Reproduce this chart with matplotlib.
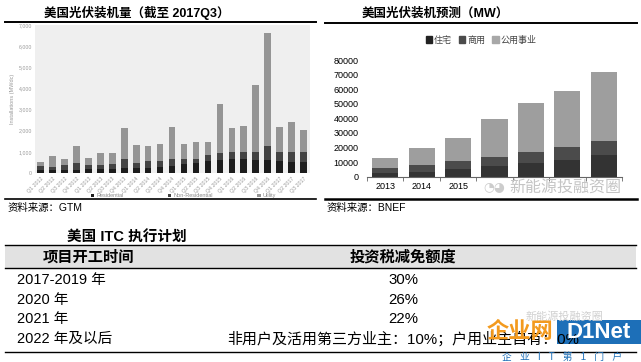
import numpy as np
import matplotlib
matplotlib.use("Agg")
import matplotlib.pyplot as plt
from matplotlib.patches import Rectangle, Patch
from matplotlib.lines import Line2D

plt.rcParams['font.family'] = ['Liberation Sans', 'Noto Sans CJK SC', 'DejaVu Sans']

# --- GTM quarterly installs (MWdc), Q1 2012 .. Q3 2017
quarters = ["Q1 2012", "Q2 2012", "Q3 2012", "Q4 2012",
            "Q1 2013", "Q2 2013", "Q3 2013", "Q4 2013",
            "Q1 2014", "Q2 2014", "Q3 2014", "Q4 2014",
            "Q1 2015", "Q2 2015", "Q3 2015", "Q4 2015",
            "Q1 2016", "Q2 2016", "Q3 2016", "Q4 2016",
            "Q1 2017", "Q2 2017", "Q3 2017"]
residential = [130, 140, 140, 145, 175, 190, 205, 240, 250, 260, 285, 350,
               440, 475, 570, 600, 665, 650, 600, 630, 550, 540, 505]
non_residential = [220, 160, 225, 315, 205, 205, 205, 410, 225, 310, 270, 315,
                   240, 205, 285, 365, 335, 350, 400, 650, 450, 470, 475]
utility = [185, 505, 315, 830, 345, 535, 540, 1460, 865, 690, 815, 1525,
           675, 770, 595, 2315, 1110, 1210, 3150, 5330, 1160, 1405, 1040]

# --- BNEF forecast (MW)
years = ["2013", "2014", "2015", "2016", "2017", "2018", "2019"]
zhuzhai = [2700, 3400, 5300, 7300, 9600, 11400, 14600]
shangyong = [3000, 4400, 5400, 6400, 7100, 8900, 10100]
gongyong = [7300, 11600, 15800, 26100, 33600, 38700, 46800]

# --- ITC table
itc_periods = ["2017-2019 年", "2020 年", "2021 年", "2022 年及以后"]
itc_rates = ["30%", "26%", "22%", "非用户及活用第三方业主：10%；户用业主自有：0%"]

W, H = 641, 362
fig = plt.figure(figsize=(W / 100, H / 100), dpi=100)
fig.patch.set_facecolor('white')


def fx(x):
    return x / W


def fy(y):
    return 1 - y / H


def hline(x0, x1, y, lw=1.2, color='black'):
    fig.add_artist(Line2D([fx(x0), fx(x1)], [fy(y), fy(y)], lw=lw, color=color,
                          transform=fig.transFigure))


# ================= left chart =================
ax1 = fig.add_axes([fx(35), fy(173), 275 / W, 148 / H])
ax1.set_facecolor('#efefef')
x = np.arange(len(quarters))
res = np.array(residential)
nres = np.array(non_residential)
ut = np.array(utility)
c_res, c_nres, c_ut = '#1c1c1c', '#434343', '#959595'
ax1.bar(x, res, width=0.55, color=c_res, label='Residential')
ax1.bar(x, nres, width=0.55, bottom=res, color=c_nres, label='Non-Residential')
ax1.bar(x, ut, width=0.55, bottom=res + nres, color=c_ut, label='Utility')
ax1.set_xlim(-0.48, 22.55)
ax1.set_ylim(0, 7000)
ax1.set_yticks(range(0, 7001, 1000))
ax1.set_yticklabels([f"{v:,}" for v in range(0, 7001, 1000)])
ax1.set_xticks(x)
ax1.set_xticklabels(quarters, rotation=45, ha='right', rotation_mode='anchor')
ax1.tick_params(length=0, labelsize=3.8, colors='#999999', pad=2)
for s in ax1.spines.values():
    s.set_visible(False)
ax1.set_ylabel("Installations (MWdc)", fontsize=4, color='#999999', labelpad=3)
ax1.legend(loc='center', bbox_to_anchor=(0.54, -0.155), ncol=3, frameon=False,
           fontsize=4, handlelength=0.6, handleheight=0.6, handletextpad=0.4,
           columnspacing=8, labelcolor='#888888')

fig.text(fx(44), fy(13), "美国光伏装机量（截至 2017Q3）", fontsize=9, fontweight='bold',
         va='center', ha='left')
hline(5, 316, 22, lw=1.4)
hline(5, 316, 198.5, lw=1.2)
fig.text(fx(8), fy(208), "资料来源：GTM", fontsize=7.5, va='center', ha='left')

# ================= right chart =================
ax2 = fig.add_axes([fx(367), fy(176.7), 255 / W, 116.7 / H])
xr = np.arange(len(years))
zz = np.array(zhuzhai)
sy = np.array(shangyong)
gy = np.array(gongyong)
ax2.bar(xr, zz, width=0.72, color='#333333', label='住宅')
ax2.bar(xr, sy, width=0.72, bottom=zz, color='#4b4b4b', label='商用')
ax2.bar(xr, gy, width=0.72, bottom=zz + sy, color='#9e9e9e', label='公用事业')
ax2.set_xlim(-0.5, 6.5)
ax2.set_ylim(0, 80000)
ax2.set_yticks(range(0, 80001, 10000))
ax2.set_xticks(xr)
ax2.set_xticklabels(years)
# years after 2015 are hidden under the watermark in the source image
for lab in ax2.get_xticklabels()[3:]:
    lab.set_visible(False)
ax2.set_xticks(np.arange(-0.5, 7, 1), minor=True)
ax2.tick_params(axis='x', which='major', length=0, labelsize=6.5, pad=4)
ax2.tick_params(axis='x', which='minor', length=3, color='#666666')
ax2.tick_params(axis='y', length=0, labelsize=6.5, pad=6)
for s in ['left', 'top', 'right']:
    ax2.spines[s].set_visible(False)
ax2.spines['bottom'].set_color('#666666')
ax2.spines['bottom'].set_linewidth(0.8)
fig.legend(handles=[Patch(color='#222222', label='住宅'),
                    Patch(color='#4b4b4b', label='商用'),
                    Patch(color='#a8a8a8', label='公用事业')],
           loc='center', bbox_to_anchor=(fx(481), fy(40)), ncol=3, frameon=False,
           fontsize=6.5, handlelength=0.7, handleheight=0.7, handletextpad=0.2,
           columnspacing=0.8, labelcolor='#444444')

fig.text(fx(362), fy(14), "美国光伏装机预测（MW）", fontsize=9, fontweight='bold',
         va='center', ha='left')
hline(325, 637, 22.5, lw=1.4)
hline(325, 637, 199.5, lw=1.8)
fig.text(fx(327), fy(208), "资料来源：BNEF", fontsize=7.5, va='center', ha='left')

# watermark
fig.text(fx(565), fy(188), "新能源投融资圈", fontsize=11.5, color='#c4c4c4', va='center',
         ha='center')
fig.text(fx(494), fy(187), "◔◕", fontsize=9, color='#cccccc', va='center', ha='center',
         family=['DejaVu Sans'])

# ================= ITC table =================
fig.text(fx(67), fy(237), "美国 ITC 执行计划", fontsize=10.5, fontweight='bold',
         va='center', ha='left')
fig.add_artist(Rectangle((fx(5), fy(268)), fx(631), (268 - 245) / H,
                         transform=fig.transFigure, facecolor='#e2e2e2', edgecolor='none'))
hline(5, 636, 245, lw=1.0)
hline(5, 636, 268, lw=1.0)
fig.text(fx(88), fy(257), "项目开工时间", fontsize=11, fontweight='bold',
         va='center', ha='center')
fig.text(fx(403), fy(257), "投资税减免额度", fontsize=11, fontweight='bold',
         va='center', ha='center')
row_y = [280, 300, 319, 339]
for yy, period, rate in zip(row_y, itc_periods, itc_rates):
    fig.text(fx(17), fy(yy), period, fontsize=10.5, va='center', ha='left')
    fig.text(fx(403), fy(yy), rate, fontsize=10.8, va='center', ha='center')
hline(5, 636, 352, lw=1.0)

# site logo watermark (covers the end of the last row, as in the source)
fig.text(fx(565), fy(317), "新能源投融资圈", fontsize=8, color='#d0d0d0',
         va='center', ha='center')
fig.text(fx(520), fy(332), "企业网", fontsize=16, fontweight='bold', color='#f39a1e',
         va='center', ha='center')
fig.add_artist(Rectangle((fx(557), fy(344)), 84 / W, 24 / H,
                         transform=fig.transFigure, facecolor='#1d6fb8', edgecolor='none'))
fig.text(fx(599), fy(332), "D1Net", fontsize=16, fontweight='bold', color='white',
         va='center', ha='center')
fig.text(fx(562), fy(357), "企   业   I   T   第   1   门   户", fontsize=7, color='#1d6fb8',
         va='center', ha='center')

fig.savefig("out.png", dpi=100)
